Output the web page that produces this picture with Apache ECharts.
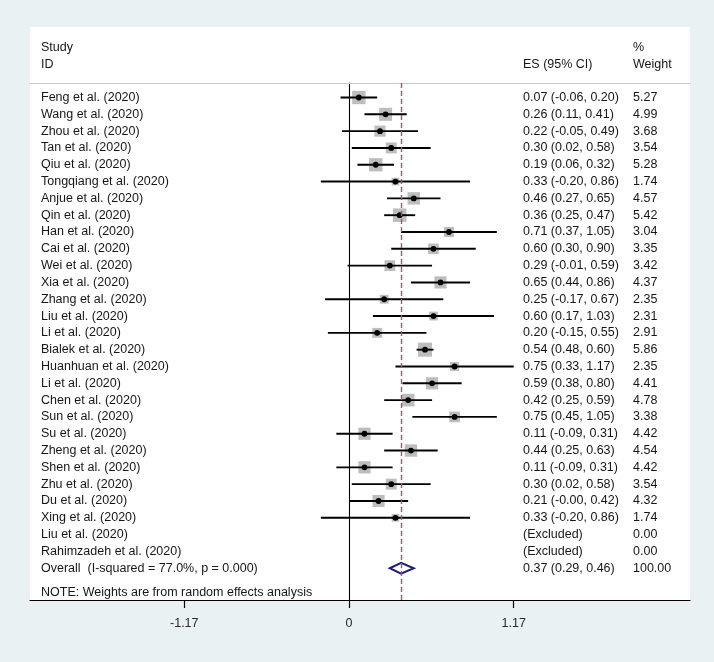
<!DOCTYPE html>
<html><head><meta charset="utf-8">
<script src="https://cdn.jsdelivr.net/npm/echarts@6/dist/echarts.min.js"></script>
<style>html,body{margin:0;padding:0;background:#eaf1f3}#c{width:714px;height:662px}</style>
</head><body><div id="c"></div>
<script>
const studies = ["Feng et al. (2020)","Wang et al. (2020)","Zhou et al. (2020)","Tan et al. (2020)","Qiu et al. (2020)","Tongqiang et al. (2020)","Anjue et al. (2020)","Qin et al. (2020)","Han et al. (2020)","Cai et al. (2020)","Wei et al. (2020)","Xia et al. (2020)","Zhang et al. (2020)","Liu et al. (2020)","Li et al. (2020)","Bialek et al. (2020)","Huanhuan et al. (2020)","Li et al. (2020)","Chen et al. (2020)","Sun et al. (2020)","Su et al. (2020)","Zheng et al. (2020)","Shen et al. (2020)","Zhu et al. (2020)","Du et al. (2020)","Xing et al. (2020)","Liu et al. (2020)","Rahimzadeh et al. (2020)"];
const esVals = [0.07,0.26,0.22,0.30,0.19,0.33,0.46,0.36,0.71,0.60,0.29,0.65,0.25,0.60,0.20,0.54,0.75,0.59,0.42,0.75,0.11,0.44,0.11,0.30,0.21,0.33,null,null];
const loVals = [-0.06,0.11,-0.05,0.02,0.06,-0.20,0.27,0.25,0.37,0.30,-0.01,0.44,-0.17,0.17,-0.15,0.48,0.33,0.38,0.25,0.45,-0.09,0.25,-0.09,0.02,-0.00,-0.20,null,null];
const hiVals = [0.20,0.41,0.49,0.58,0.32,0.86,0.65,0.47,1.05,0.90,0.59,0.86,0.67,1.03,0.55,0.60,1.17,0.80,0.59,1.05,0.31,0.63,0.31,0.58,0.42,0.86,null,null];
const weights = [5.27,4.99,3.68,3.54,5.28,1.74,4.57,5.42,3.04,3.35,3.42,4.37,2.35,2.31,2.91,5.86,2.35,4.41,4.78,3.38,4.42,4.54,4.42,3.54,4.32,1.74,0.00,0.00];
const esText = ["0.07 (-0.06, 0.20)","0.26 (0.11, 0.41)","0.22 (-0.05, 0.49)","0.30 (0.02, 0.58)","0.19 (0.06, 0.32)","0.33 (-0.20, 0.86)","0.46 (0.27, 0.65)","0.36 (0.25, 0.47)","0.71 (0.37, 1.05)","0.60 (0.30, 0.90)","0.29 (-0.01, 0.59)","0.65 (0.44, 0.86)","0.25 (-0.17, 0.67)","0.60 (0.17, 1.03)","0.20 (-0.15, 0.55)","0.54 (0.48, 0.60)","0.75 (0.33, 1.17)","0.59 (0.38, 0.80)","0.42 (0.25, 0.59)","0.75 (0.45, 1.05)","0.11 (-0.09, 0.31)","0.44 (0.25, 0.63)","0.11 (-0.09, 0.31)","0.30 (0.02, 0.58)","0.21 (-0.00, 0.42)","0.33 (-0.20, 0.86)","(Excluded)","(Excluded)"];
const overallLabel = "Overall  (I-squared = 77.0%, p = 0.000)";
const overallEs = 0.37, overallLo = 0.29, overallHi = 0.46;
const overallText = "0.37 (0.29, 0.46)";
const overallWeight = "100.00";
const xTicks = [-1.17, 0, 1.17];

const rowNames = studies.concat([overallLabel]);
const rowEs = esText.concat([overallText]);
const rowW = weights.map(w => w.toFixed(2)).concat([overallWeight]);
const rowIdx = rowNames.map((_, i) => i);

const FONT = "'Liberation Sans', Arial, sans-serif";
const TXT = '#161616';
const FS = 12.5;

const studyData = [];
esVals.forEach((e, i) => { if (e !== null) studyData.push([i, loVals[i], hiVals[i], e, weights[i]]); });

const yBase = {type:'value', inverse:true, min:-0.863, max:29.89, splitLine:{show:false}, axisTick:{show:false}};
const labelBase = {customValues: rowIdx, fontFamily: FONT, fontSize: FS, color: TXT, align: 'left'};

const chart = echarts.init(document.getElementById('c'));
chart.setOption({
  backgroundColor: '#eaf1f3',
  animation: false,
  graphic: [
    {type:'rect', z:-10, shape:{x:30, y:27, width:660, height:573}, style:{fill:'#ffffff'}},
    {type:'text', left:41, top:41, style:{text:'Study', font:FS+'px '+FONT, fill:TXT}},
    {type:'text', left:41, top:58, style:{text:'ID', font:FS+'px '+FONT, fill:TXT}},
    {type:'text', left:523, top:58, style:{text:'ES (95% CI)', font:FS+'px '+FONT, fill:TXT}},
    {type:'text', left:633, top:41, style:{text:'%', font:FS+'px '+FONT, fill:TXT}},
    {type:'text', left:633, top:58, style:{text:'Weight', font:FS+'px '+FONT, fill:TXT}},
    {type:'text', left:41, top:586, style:{text:'NOTE: Weights are from random effects analysis', font:FS+'px '+FONT, fill:TXT}}
  ],
  grid: {left:30, right:24, top:83, bottom:62},
  xAxis: [
    {type:'value', min:-2.2656, max:2.4219, position:'bottom',
     axisLine:{show:true, onZero:false, lineStyle:{color:'#000', width:1.2}},
     axisTick:{show:true, customValues:xTicks, length:8, lineStyle:{color:'#000', width:1.2}},
     axisLabel:{customValues:xTicks, margin:17, fontFamily:FONT, fontSize:FS, color:'#2a2a2a', formatter: v => String(v)},
     splitLine:{show:false}},
    {type:'value', min:-2.2656, max:2.4219, position:'top',
     axisLine:{show:true, onZero:false, lineStyle:{color:'#c8c8c8', width:1.2}},
     axisTick:{show:false}, axisLabel:{show:false}, splitLine:{show:false}}
  ],
  yAxis: [
    Object.assign({}, yBase, {axisLine:{show:true, onZero:true, onZeroAxisIndex:0, lineStyle:{color:'#000', width:1.1}}, axisLabel:{show:false}}),
    Object.assign({}, yBase, {position:'left', axisLine:{show:false, onZero:false},
      axisLabel: Object.assign({}, labelBase, {margin:-11, formatter: v => rowNames[v] || ''})}),
    Object.assign({}, yBase, {position:'right', axisLine:{show:false, onZero:false},
      axisLabel: Object.assign({}, labelBase, {margin:-167, formatter: v => rowEs[v] || ''})}),
    Object.assign({}, yBase, {position:'right', axisLine:{show:false, onZero:false},
      axisLabel: Object.assign({}, labelBase, {margin:-57, formatter: v => rowW[v] || ''})})
  ],
  series: [
    {type:'custom', xAxisIndex:0, yAxisIndex:0, data: studyData, encode:{x:[1,2,3], y:0}, clip:false,
     renderItem: function(params, api) {
       const i = api.value(0), lo = api.value(1), hi = api.value(2), es = api.value(3), w = api.value(4);
       const pLo = api.coord([lo, i]), pHi = api.coord([hi, i]), pEs = api.coord([es, i]);
       const s = 5.8 * Math.sqrt(w);
       return {type:'group', children:[
         {type:'rect', shape:{x:pEs[0]-s/2, y:pEs[1]-s/2, width:s, height:s}, style:{fill:'#bdbdbd'}},
         {type:'line', shape:{x1:pLo[0], y1:pLo[1], x2:pHi[0], y2:pHi[1]}, style:{stroke:'#000', lineWidth:1.9}},
         {type:'circle', shape:{cx:pEs[0], cy:pEs[1], r:2.9}, style:{fill:'#000'}}
       ]};
     }},
    {type:'custom', xAxisIndex:0, yAxisIndex:0, data: [[studies.length, overallLo, overallHi, overallEs]], encode:{x:[1,2,3], y:0}, clip:false,
     renderItem: function(params, api) {
       const i = api.value(0), lo = api.value(1), hi = api.value(2), es = api.value(3);
       const pLo = api.coord([lo, i]), pHi = api.coord([hi, i]), pEs = api.coord([es, i]);
       const h = 5.5;
       return {type:'polygon', shape:{points:[[pLo[0], pLo[1]], [pEs[0], pEs[1]-h], [pHi[0], pHi[1]], [pEs[0], pEs[1]+h]]},
         style:{fill:'none', stroke:'#1c1c80', lineWidth:2}};
     },
     markLine: {silent:true, symbol:['none','none'], label:{show:false},
       lineStyle:{color:'#a9575c', type:[5,3], width:1.4},
       data:[{xAxis: overallEs}]}}
  ]
});
</script>
</body></html>
